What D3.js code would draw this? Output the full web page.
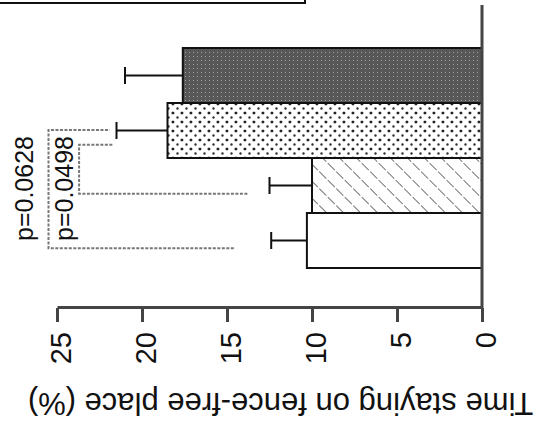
<!DOCTYPE html>
<html>
<head>
<meta charset="utf-8">
<script src="https://cdn.jsdelivr.net/npm/d3@7"></script>
<style>
  body { margin: 0; background: #fff; }
  svg { display: block; font-family: "Liberation Sans", Arial, sans-serif; }
</style>
</head>
<body>
<svg id="chart" width="542" height="430"></svg>
<script>
/*** DATA ***/
const groups = ["open", "hatched", "dotted", "filled"];
const means = [10.3, 10.0, 18.5, 17.6];
const sems = [2.1, 2.5, 3.0, 3.4];
const yTicks = [0, 5, 10, 15, 20, 25];
const yTitle = "Time staying on fence-free place (%)";
// brackets : groups compared, line level and arm ends (in %), label level
const bracketPairs = [[0, 2], [1, 2]];
const bracketLevels = [25.5, 23.7];
const bracketEnds = [[14.6, 21.9], [13.8, 21.7]];
const bracketLabels = ["p=0.0628", "p=0.0498"];
const labelLevels = [26.4, 24.05];

/*** LAYOUT (the figure is drawn upright, then turned a quarter turn) ***/
const W = 542, H = 430;
const svg = d3.select("#chart");
const defs = svg.append("defs");

// hatch
const hatch = defs.append("pattern").attr("id", "hatch")
    .attr("patternUnits", "userSpaceOnUse")
    .attr("width", 12).attr("height", 12)
    .attr("patternTransform", "rotate(45)");
hatch.append("rect").attr("width", 12).attr("height", 12).attr("fill", "#fff");
hatch.append("line").attr("x1", 0).attr("y1", 0).attr("x2", 0).attr("y2", 12)
    .attr("stroke", "#333").attr("stroke-width", 1.4).attr("stroke-dasharray", "5,2");

// dots
const dots = defs.append("pattern").attr("id", "dots")
    .attr("patternUnits", "userSpaceOnUse")
    .attr("width", 9).attr("height", 9);
dots.append("rect").attr("width", 9).attr("height", 9).attr("fill", "#fff");
dots.append("circle").attr("cx", 2).attr("cy", 2).attr("r", 1.4).attr("fill", "#222");
dots.append("circle").attr("cx", 6.5).attr("cy", 6.5).attr("r", 1.2).attr("fill", "#333");

// dark grain
const grain = defs.append("pattern").attr("id", "grain")
    .attr("patternUnits", "userSpaceOnUse")
    .attr("width", 4).attr("height", 4);
grain.append("rect").attr("width", 4).attr("height", 4).attr("fill", "#585858");
grain.append("rect").attr("x", 1).attr("y", 1).attr("width", 1).attr("height", 1).attr("fill", "#a0a0a0");

const fills = ["#fff", "url(#hatch)", "url(#dots)", "url(#grain)"];

const g = svg.append("g")
    .attr("transform", "translate(0," + H + ") rotate(-90)");

let x = d3.scaleBand().domain(groups).range([162, 382]).padding(0);
let y = d3.scaleLinear().domain([0, 25]).range([482, 57]);

// legend box, mostly outside the picture
g.append("rect")
    .attr("x", 427).attr("y", -20)
    .attr("width", 60).attr("height", 325)
    .attr("fill", "none").attr("stroke", "#111").attr("stroke-width", 2);

// bars
g.selectAll(".bar")
    .data(groups)
    .enter().append("rect")
    .attr("class", "bar")
    .attr("x", d => x(d))
    .attr("y", (d, i) => y(means[i]))
    .attr("width", x.bandwidth())
    .attr("height", (d, i) => y(0) - y(means[i]))
    .attr("fill", (d, i) => fills[i])
    .attr("stroke", "#111")
    .attr("stroke-width", 2);

// error bars (upper only)
const capW = 17;
g.selectAll(".err")
    .data(groups)
    .enter().append("path")
    .attr("class", "err")
    .attr("fill", "none")
    .attr("stroke", "#111")
    .attr("stroke-width", 2)
    .attr("d", function (d, i) {
        const cx = x(d) + x.bandwidth() / 2;
        const top = y(means[i] + sems[i]);
        return "M" + cx + "," + y(means[i]) + "V" + top +
            "M" + (cx - capW / 2) + "," + top + "H" + (cx + capW / 2);
    });

// value axis
const yAxis = g.append("g")
    .attr("transform", "translate(122,0)")
    .call(d3.axisLeft(y).tickValues(yTicks).tickSize(14).tickSizeOuter(0).tickPadding(10));
yAxis.select(".domain").attr("stroke", "#444").attr("stroke-width", 3);
yAxis.selectAll(".tick line").attr("stroke", "#444").attr("stroke-width", 3);
yAxis.selectAll(".tick text")
    .attr("fill", "#111")
    .attr("font-size", 29)
    .attr("dy", "0.46em");

// group axis
g.append("line")
    .attr("x1", 122).attr("x2", 425)
    .attr("y1", y(0)).attr("y2", y(0))
    .attr("stroke", "#444").attr("stroke-width", 3);

// axis title
g.append("text")
    .attr("transform", "translate(37," + ((y(0) + y(25)) / 2 + 11) + ") rotate(-90)")
    .attr("text-anchor", "middle")
    .attr("font-size", 31)
    .attr("fill", "#111")
    .text(yTitle);

// significance brackets
const armPos = [[0.36, 0.51], [0.35, 0.24]];
bracketPairs.forEach(function (p, i) {
    const xa = x(groups[p[0]]) + x.bandwidth() * armPos[i][0];
    const xb = x(groups[p[1]]) + x.bandwidth() * armPos[i][1];
    const lv = y(bracketLevels[i]);
    g.append("path")
        .attr("fill", "none")
        .attr("stroke", "#777")
        .attr("stroke-width", 2)
        .attr("stroke-dasharray", "3,1.5")
        .attr("d", "M" + xa + "," + y(bracketEnds[i][0]) + "V" + lv +
            "H" + xb + "V" + y(bracketEnds[i][1]));
    const mid = (x(groups[0]) + x(groups[2]) + x.bandwidth()) / 2;
    g.append("text")
        .attr("x", mid - 3)
        .attr("y", y(labelLevels[i]))
        .attr("text-anchor", "middle")
        .attr("font-size", 25)
        .attr("fill", "#111")
        .text(bracketLabels[i]);
});
</script>
</body>
</html>
